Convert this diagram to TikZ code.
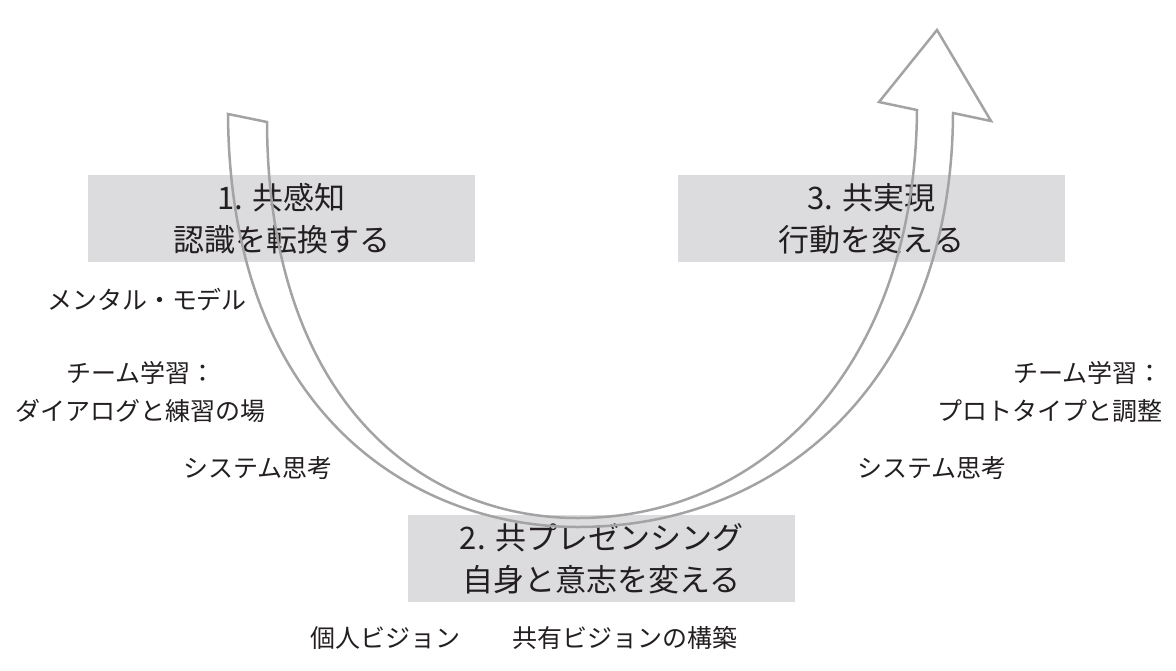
\documentclass[tikz,border=0pt]{standalone}
\usepackage{fontspec}
\setmainfont{Noto Sans CJK JP}
\begin{document}
\begin{tikzpicture}[x=1pt,y=-1pt,
  gbox/.style={fill=boxgray,draw=none,minimum width=387pt,minimum height=87pt,inner sep=0pt},
  big/.style={font=\fontsize{31}{42}\selectfont,align=center,text=txt},
  small/.style={font=\fontsize{25}{38}\selectfont,text=txt}]
\definecolor{boxgray}{HTML}{DCDCDE}
\definecolor{txt}{HTML}{231F20}
\definecolor{arr}{HTML}{A3A3A3}
\useasboundingbox (0,0) rectangle (1176,670);
\node[gbox] (b1) at (281.5,218.5) {};
\node[gbox] (b3) at (871.5,218.5) {};
\node[gbox] (b2) at (601.5,558.5) {};
\node[big] (t1) at (b1) {1. 共感知\\認識を転換する};
\node[big] (t3) at (b3) {3. 共実現\\行動を変える};
\node[big] (t2) at (b2) {2. 共プレゼンシング\\自身と意志を変える};
\node[small] (l1) at (147,300) {メンタル・モデル};
\node[small,align=center] (l2) at (141,392) {チーム学習：\\ダイアログと練習の場};
\node[small] (l3) at (258,468) {システム思考};
\node[small,align=right,anchor=east] (r2) at (1166,392) {チーム学習：\\プロトタイプと調整};
\node[small] (r3) at (932,468) {システム思考};
\node[small] (c1) at (385,638) {個人ビジョン};
\node[small] (c2) at (625,638) {共有ビジョンの構築};
\draw[arr,line width=2.5pt,line join=miter]
  (228,114) .. controls (230,420) and (420,527) .. (578,527)
  .. controls (780,527) and (952,380) .. (953,113)
  -- (991,121) -- (937,30) -- (879,102) -- (917,110)
  .. controls (915,370) and (760,518) .. (578,518)
  .. controls (420,518) and (268,400) .. (267,122) -- cycle;
\end{tikzpicture}
\end{document}
